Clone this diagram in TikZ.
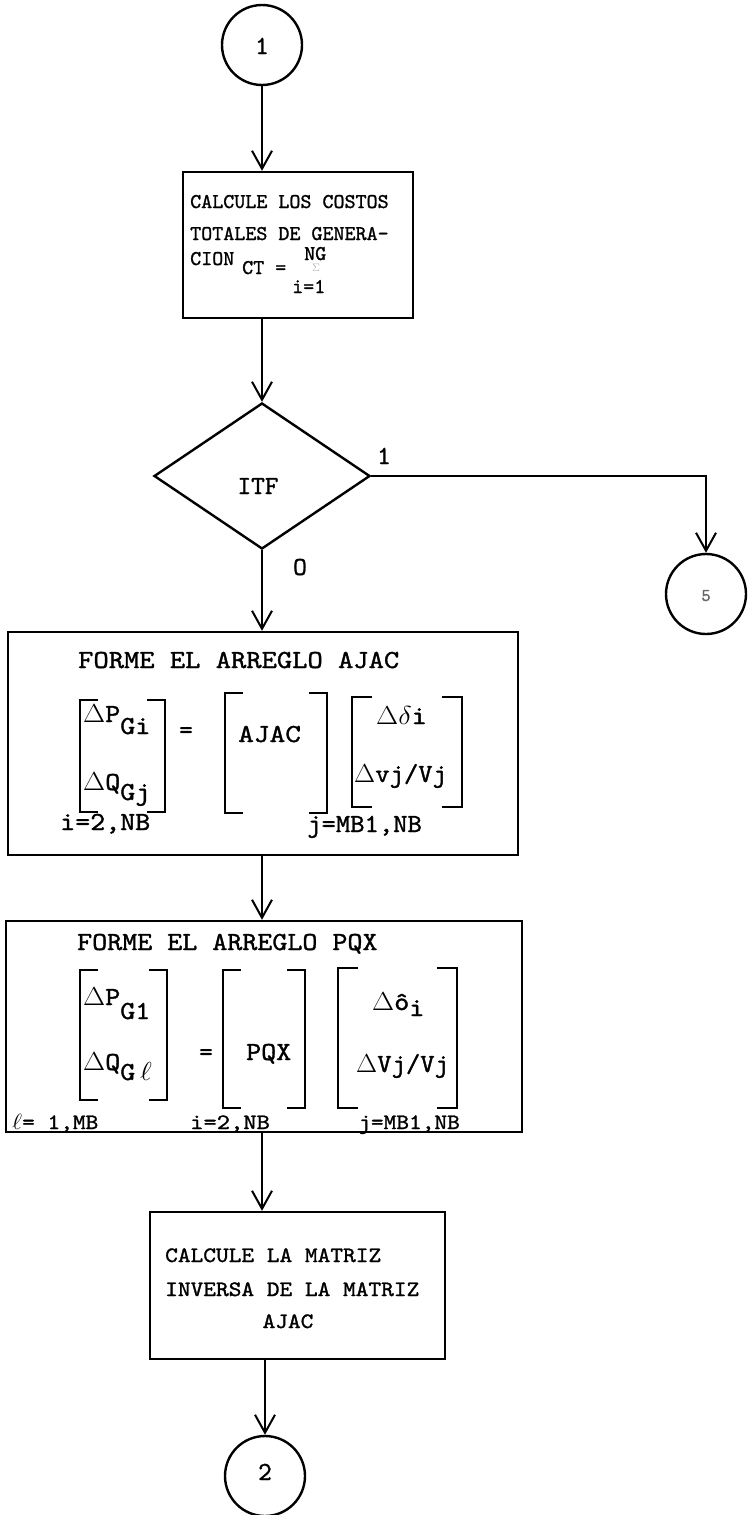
\RequirePackage{fix-cm}
\documentclass[tikz,border=0pt]{standalone}
\usepackage{graphicx}
\usepackage{fontspec}
\setmonofont{lmmono10-regular}[Extension=.otf,FakeBold=1.2]
\usetikzlibrary{arrows.meta,shapes.geometric}
\newcommand\hs[2]{\scalebox{#1}[1]{#2}}
\newcommand\fA{\fontsize{21}{21}\selectfont\ttfamily}
\newcommand\fB{\fontsize{26}{26}\selectfont\ttfamily}
\newcommand\fC{\fontsize{22}{22}\selectfont\ttfamily}
\newcommand\fD{\fontsize{26}{26}\selectfont\ttfamily}
\tikzset{
  box/.style={draw,line width=2.4pt,inner sep=0pt},
  conn/.style={draw,circle,line width=2.4pt,inner sep=0pt,minimum size=80pt},
  arr/.style={line width=2pt,-{Straight Barb[length=18pt,width=20pt,line width=2pt]}},
  brk/.style={line width=1.8pt},
  txt/.style={inner sep=0pt,anchor=base west},
  ctxt/.style={inner sep=0pt,anchor=base}
}
\begin{document}
\begin{tikzpicture}[x=1pt,y=-1pt]
\useasboundingbox (0,0) rectangle (748,1515);

% connectors (circles)
\node[conn] (c1) at (262,45) {};
\node[ctxt,font=\fD] (c1t) at (262,54) {1};
\node[conn] (c5) at (706,594) {};
\node[ctxt,font=\fontsize{18}{18}\selectfont\ttfamily,text=black!60] (c5t) at (706,601) {5};
\node[conn] (c2) at (265,1476) {};
\node[ctxt,font=\fD] (c2t) at (265,1480) {2};

% box 1
\node[box,minimum width=230pt,minimum height=146pt] (b1) at (298,245) {};
\node[txt,font=\fA] (b1l1) at (190,208) {CALCULE LOS COSTOS};
\node[txt,font=\fA] (b1l2) at (190,240) {TOTALES DE GENERA-};
\node[txt,font=\fA] (b1l3) at (190,265) {CION};
\node[txt,font=\fA] (b1ct) at (242,274) {CT =};
\node[txt,font=\fA] (b1ng) at (304,260) {NG};
\node[ctxt,font=\fontsize{11}{11}\selectfont,text=black!30] (b1sig) at (316,271) {$\Sigma$};
\node[txt,font=\fA] (b1i) at (292,293) {i=1};

% decision
\node[draw,diamond,line width=2.4pt,inner sep=0pt,minimum width=216pt,minimum height=146pt] (d) at (262,476) {};
\node[ctxt,font=\fD] (itf) at (258,494) {ITF};
\node[ctxt,font=\fD] (lab1) at (384,464) {1};
\node[ctxt,font=\fD] (lab0) at (300,575) {O};

% box 2
\node[box,minimum width=510pt,minimum height=223pt] (b2) at (263,743.5) {};
\node[txt,font=\fB] (b2h) at (78,668) {\hs{1.12}{FORME EL ARREGLO AJAC}};
\draw[brk] (98,700) -- (80,700) -- (80,812) -- (98,812);
\draw[brk] (147,700) -- (165,700) -- (165,812) -- (147,812);
\node[txt,font=\fB] (b2a) at (83,722) {\hs{1.1}{$\Delta$P\raisebox{-12pt}{Gi}}};
\node[txt,font=\fB] (b2b) at (83,790) {\hs{1.1}{$\Delta$Q\raisebox{-10pt}{Gj}}};
\node[ctxt,font=\fB] (b2eq) at (186,738) {=};
\node[txt,font=\fB] (b2c) at (60,830) {\hs{1.1}{i=2,NB}};
\draw[brk] (243,693) -- (225,693) -- (225,813) -- (243,813);
\draw[brk] (309,693) -- (327,693) -- (327,813) -- (309,813);
\node[txt,font=\fB] (b2d) at (238,742) {\hs{1.15}{AJAC}};
\draw[brk] (372,697) -- (352,697) -- (352,807) -- (372,807);
\draw[brk] (442,697) -- (462,697) -- (462,807) -- (442,807);
\node[txt,font=\fB] (b2e) at (376,724) {\hs{1.1}{$\Delta\delta$i}};
\node[txt,font=\fB] (b2f) at (354,782) {\hs{1.05}{$\Delta$vj/Vj}};
\node[txt,font=\fB] (b2g) at (307,832) {\hs{1.05}{j=MB1,NB}};

% box 3
\node[box,minimum width=516pt,minimum height=211pt] (b3) at (264,1026.5) {};
\node[txt,font=\fB] (b3h) at (77,950) {\hs{1.1}{FORME EL ARREGLO PQX}};
\draw[brk] (98,970) -- (80,970) -- (80,1100) -- (98,1100);
\draw[brk] (149,970) -- (167,970) -- (167,1100) -- (149,1100);
\node[txt,font=\fB] (b3a) at (83,1005) {\hs{1.1}{$\Delta$P\raisebox{-14pt}{G1}}};
\node[txt,font=\fB] (b3b) at (83,1070) {\hs{1.1}{$\Delta$Q\raisebox{-10pt}{G\,$\ell$}}};
\node[ctxt,font=\fB] (b3eq) at (206,1060) {=};
\draw[brk] (241,970) -- (223,970) -- (223,1108) -- (241,1108);
\draw[brk] (287,970) -- (305,970) -- (305,1108) -- (287,1108);
\node[txt,font=\fB] (b3pqx) at (246,1060) {\hs{1.1}{PQX}};
\draw[brk] (358,968) -- (338,968) -- (338,1108) -- (358,1108);
\draw[brk] (437,968) -- (457,968) -- (457,1108) -- (437,1108);
\node[txt,font=\fB] (b3c) at (372,1010) {\hs{1.1}{$\Delta$\^o\raisebox{-6pt}{i}}};
\node[txt,font=\fB] (b3d) at (356,1072) {\hs{1.05}{$\Delta$Vj/Vj}};
\node[txt,font=\fC] (b3e) at (12,1129) {\hs{1.1}{$\ell$= 1,MB}};
\node[txt,font=\fC] (b3f) at (190,1129) {\hs{1.15}{i=2,NB}};
\node[txt,font=\fC] (b3g) at (358,1129) {\hs{1.1}{j=MB1,NB}};

% box 4
\node[box,minimum width=295pt,minimum height=147pt] (b4) at (297.5,1285.5) {};
\node[txt,font=\fC] (b4l1) at (165,1262) {\hs{1.1}{CALCULE LA MATRIZ}};
\node[txt,font=\fC] (b4l2) at (165,1296) {\hs{1.1}{INVERSA DE LA MATRIZ}};
\node[ctxt,font=\fC] (b4l3) at (288,1328) {\hs{1.1}{AJAC}};

% flow
\draw[arr] (c1.south) -- (c1.south |- b1.north);
\draw[arr] (d.north |- b1.south) -- (d.north);
\draw[arr] (d.east) -| (c5.north);
\draw[arr] (d.south) -- (d.south |- b2.north);
\draw[arr] (d.south |- b2.south) -- (d.south |- b3.north);
\draw[arr] (d.south |- b3.south) -- (d.south |- b4.north);
\draw[arr] (c2.north |- b4.south) -- (c2.north);
\end{tikzpicture}
\end{document}
